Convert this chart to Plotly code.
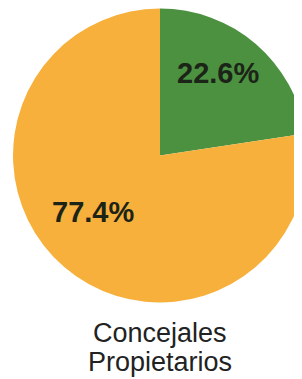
import math
import plotly.graph_objects as go

labels = ["Grupo A", "Grupo B"]
values = [22.6, 77.4]
colors = ["#4b9140", "#f7b03c"]
title_lines = ["Concejales", "Propietarios"]

W, H = 302, 379
dom_x = [0.0166, 0.990]
dom_y = [0.2230, 0.9987]

fig = go.Figure(go.Pie(
    labels=labels,
    values=values,
    sort=False,
    direction="clockwise",
    rotation=0,
    marker=dict(colors=colors, line=dict(width=0)),
    textinfo="none",
    hoverinfo="skip",
    showlegend=False,
    domain=dict(x=dom_x, y=dom_y),
))

# percentage labels placed along each slice's mid-angle
cx = (dom_x[0] + dom_x[1]) / 2 * W
cy = (dom_y[0] + dom_y[1]) / 2 * H
r = min((dom_x[1] - dom_x[0]) * W, (dom_y[1] - dom_y[0]) * H) / 2
total = sum(values)
cum = 0.0
label_style = [(0.69, -8, 6), (0.60, -10, 10)]  # radius fraction, xshift, yshift
for v, (f, xs, ys) in zip(values, label_style):
    mid = (cum + v / 2) / total * 2 * math.pi
    cum += v
    px = cx + f * r * math.sin(mid)
    py = cy + f * r * math.cos(mid)
    fig.add_annotation(
        text=f"{v:.1f}%", x=px / W, y=py / H, xref="paper", yref="paper",
        xanchor="center", yanchor="middle", showarrow=False,
        xshift=xs, yshift=ys,
        font=dict(family="Liberation Sans, Arial, sans-serif", size=29,
                  color="#1c2418", weight="bold"),
    )

for line, yy in zip(title_lines, [0.1425, 0.066]):
    fig.add_annotation(
        text=line, x=0.503, y=yy, xref="paper", yref="paper",
        xanchor="center", yanchor="middle", showarrow=False,
        font=dict(family="Liberation Sans, Arial, sans-serif", size=27, color="#222222"),
    )

fig.update_layout(
    width=W, height=H,
    margin=dict(l=0, r=0, t=0, b=0),
    paper_bgcolor="white", plot_bgcolor="white",
)

fig.write_html("out.html")
